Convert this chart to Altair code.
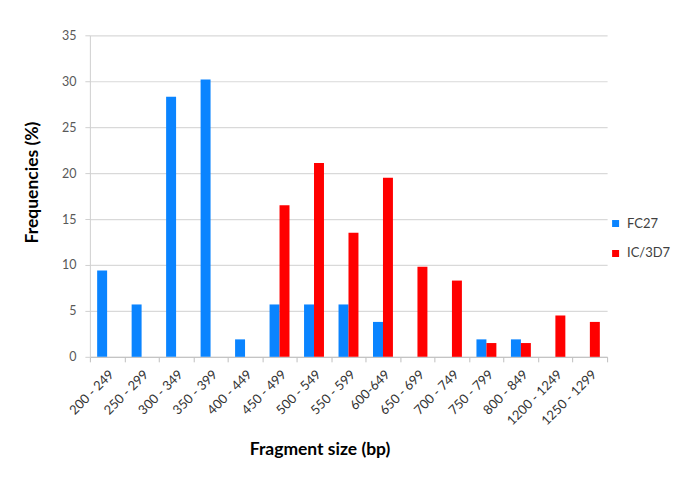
import altair as alt
import pandas as pd

categories = ["200 - 249", "250 - 299", "300 - 349", "350 - 399", "400 - 449",
              "450 - 499", "500 - 549", "550 - 599", "600-649", "650 - 699",
              "700 - 749", "750 - 799", "800 - 849", "1200 - 1249", "1250 - 1299"]
series = ["FC27", "IC/3D7"]
fc27 = [9.4, 5.7, 28.3, 30.2, 1.9, 5.7, 5.7, 5.7, 3.8, 0, 0, 1.9, 1.9, 0, 0]
ic3d7 = [0, 0, 0, 0, 0, 16.5, 21.1, 13.5, 19.5, 9.8, 8.3, 1.5, 1.5, 4.5, 3.8]
y_ticks = [0, 5, 10, 15, 20, 25, 30, 35]
colors = ["#0A84FF", "#FF0000"]

rows = []
for c, a, b in zip(categories, fc27, ic3d7):
    rows.append({"size": c, "series": series[0], "value": a})
    rows.append({"size": c, "series": series[1], "value": b})
df = pd.DataFrame(rows)

FONT = "Lato"

chart = alt.Chart(df).mark_bar().encode(
    x=alt.X("size:N", sort=categories,
            scale=alt.Scale(paddingInner=0, paddingOuter=0),
            axis=alt.Axis(title="Fragment size (bp)", labelAngle=-45, tickBand="extent",
                          labelFont=FONT, labelFontSize=13, labelColor="#333333",
                          labelPadding=6, tickSize=5, tickColor="#BFBFBF",
                          domainColor="#BFBFBF", grid=False,
                          titleFont=FONT, titleFontSize=17.5, titleFontWeight="bold",
                          titleColor="#000000", titleX=230, titleY=93,
                          titleBaseline="middle", titleAlign="center")),
    xOffset=alt.XOffset("series:N", sort=series,
                        scale=alt.Scale(paddingOuter=0.73, paddingInner=0)),
    y=alt.Y("value:Q", scale=alt.Scale(domain=[0, 35], nice=False),
            axis=alt.Axis(title="Frequencies (%)", values=y_ticks,
                          labelFont=FONT, labelFontSize=12.5, labelColor="#595959",
                          labelPadding=9, tickSize=5, tickColor="#D0D0D0",
                          domainColor="#D0D0D0", gridColor="#D9D9D9", gridWidth=1.2,
                          titleFont=FONT, titleFontSize=17.5, titleFontWeight="bold",
                          titleColor="#000000", titleAngle=270, titleX=-57, titleY=147,
                          titleBaseline="middle", titleAlign="center")),
    color=alt.Color("series:N", sort=series,
                    scale=alt.Scale(domain=series, range=colors),
                    legend=alt.Legend(title=None, orient="none", legendX=520, legendY=182,
                                      symbolType="square", symbolSize=49,
                                      symbolStrokeWidth=0, labelFont=FONT,
                                      labelFontSize=13, labelColor="#404040",
                                      rowPadding=16, labelOffset=5)),
).properties(
    width=518, height=322,
    autosize=alt.AutoSizeParams(type="none"),
    padding={"left": 82, "top": 27, "right": 70, "bottom": 114},
).configure_view(stroke=None)

chart.save("out.html", embed_options={"renderer": "svg", "actions": False})
